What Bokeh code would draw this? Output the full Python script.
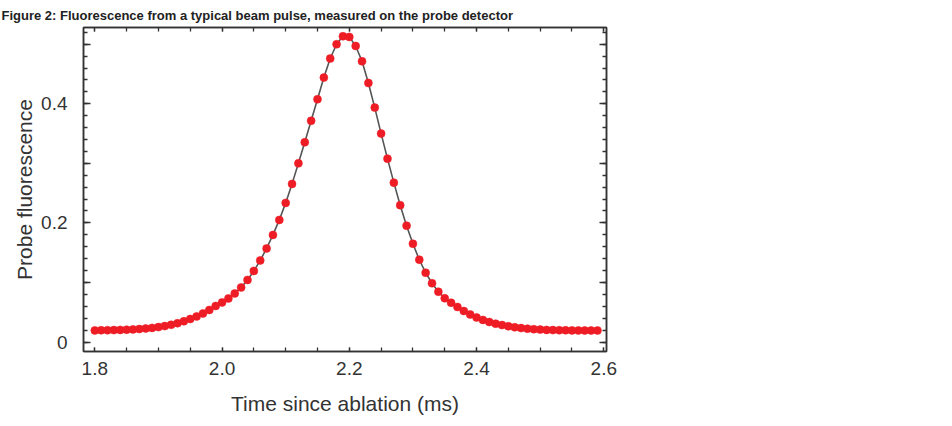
from bokeh.plotting import figure
from bokeh.models import (FixedTicker, LinearAxis, CustomJSTickFormatter, PrintfTickFormatter,
                          Range1d)
from bokeh.embed import file_html
from bokeh.resources import INLINE

# Data: time since ablation (ms) and probe fluorescence
time_ms = [1.80, 1.81, 1.82, 1.83, 1.84, 1.85, 1.86, 1.87, 1.88, 1.89,
           1.90, 1.91, 1.92, 1.93, 1.94, 1.95, 1.96, 1.97, 1.98, 1.99,
           2.00, 2.01, 2.02, 2.03, 2.04, 2.05, 2.06, 2.07, 2.08, 2.09,
           2.10, 2.11, 2.12, 2.13, 2.14, 2.15, 2.16, 2.17, 2.18, 2.19,
           2.20, 2.21, 2.22, 2.23, 2.24, 2.25, 2.26, 2.27, 2.28, 2.29,
           2.30, 2.31, 2.32, 2.33, 2.34, 2.35, 2.36, 2.37, 2.38, 2.39,
           2.40, 2.41, 2.42, 2.43, 2.44, 2.45, 2.46, 2.47, 2.48, 2.49,
           2.50, 2.51, 2.52, 2.53, 2.54, 2.55, 2.56, 2.57, 2.58, 2.59]
fluorescence = [0.0195, 0.0197, 0.0198, 0.0200, 0.0203, 0.0207, 0.0212, 0.0218, 0.0227, 0.0237,
                0.0250, 0.0267, 0.0289, 0.0316, 0.0348, 0.0387, 0.0429, 0.0479, 0.0538, 0.0605,
                0.0664, 0.0731, 0.0815, 0.0916, 0.1042, 0.1193, 0.1370, 0.1571, 0.1798, 0.2050,
                0.2336, 0.2655, 0.3000, 0.3353, 0.3714, 0.4076, 0.4440, 0.4760, 0.5000, 0.5134,
                0.5123, 0.4971, 0.4714, 0.4350, 0.3936, 0.3499, 0.3079, 0.2676, 0.2297, 0.1953,
                0.1650, 0.1382, 0.1163, 0.0987, 0.0844, 0.0734, 0.0659, 0.0588, 0.0521, 0.0462,
                0.0412, 0.0370, 0.0336, 0.0308, 0.0284, 0.0264, 0.0247, 0.0234, 0.0224, 0.0215,
                0.0208, 0.0203, 0.0200, 0.0198, 0.0197, 0.0195, 0.0195, 0.0193, 0.0193, 0.0193]

x_ticks = [1.8, 2.0, 2.2, 2.4, 2.6]
x_minor = [round(1.8 + 0.05 * i, 2) for i in range(17)]
y_ticks = [0.0, 0.1, 0.2, 0.3, 0.4, 0.5]
y_minor = [round(0.02 * i, 2) for i in range(27)]

caption = "Figure 2: Fluorescence from a typical beam pulse, measured on the probe detector"

FONT = "Liberation Sans"
DARK = "#333333"

p = figure(frame_width=523, frame_height=324,
           min_border_left=83, min_border_right=330, min_border_top=27, min_border_bottom=67,
           x_range=Range1d(1.78224, 2.60424), y_range=Range1d(-0.01595, 0.5281),
           output_backend="svg", toolbar_location=None, x_axis_location=None, y_axis_location=None,
           title=caption)
p.background_fill_color = "white"
p.border_fill_color = "white"
p.grid.visible = False
p.outline_line_color = DARK
p.outline_line_width = 1.5

p.title.align = "left"
p.title.offset = -82
p.title.standoff = 9
p.title.text_font = FONT
p.title.text_font_size = "13px"
p.title.text_font_style = "bold"
p.title.text_color = "#222222"

xticker = FixedTicker(ticks=x_ticks, minor_ticks=x_minor)
yticker = FixedTicker(ticks=y_ticks, minor_ticks=y_minor)

ylab = CustomJSTickFormatter(code="""
const k = Math.round(tick * 10);
if (k % 2 != 0) { return ""; }
return k == 0 ? "0" : (k / 10).toFixed(1);
""")
blank = CustomJSTickFormatter(code="return '';")


def style(ax, major_len, minor_len):
    ax.axis_line_color = DARK
    ax.axis_line_width = 1.5
    ax.major_tick_line_color = DARK
    ax.minor_tick_line_color = DARK
    ax.major_tick_line_width = 1.3
    ax.minor_tick_line_width = 1.3
    ax.major_tick_in = major_len
    ax.major_tick_out = 0
    ax.minor_tick_in = minor_len
    ax.minor_tick_out = 0
    ax.major_label_text_font = FONT
    ax.major_label_text_font_size = "19px"
    ax.major_label_text_color = DARK
    ax.axis_label_text_font = FONT
    ax.axis_label_text_font_size = "21px"
    ax.axis_label_text_font_style = "normal"
    ax.axis_label_text_color = DARK


bottom = LinearAxis(ticker=xticker, formatter=PrintfTickFormatter(format="%.1f"),
                    axis_label="Time since ablation (ms)")
style(bottom, 4, 4)
bottom.major_label_standoff = 10
bottom.axis_label_standoff = 14
p.add_layout(bottom, "below")

left = LinearAxis(ticker=yticker, formatter=ylab, axis_label="Probe fluorescence")
style(left, 7, 4)
left.major_label_standoff = 16
left.axis_label_standoff = 2
p.add_layout(left, "left")

top = LinearAxis(ticker=xticker, formatter=blank)
style(top, 4, 4)
top.major_label_standoff = 0
top.major_label_text_font_size = "1px"
p.add_layout(top, "above")

right = LinearAxis(ticker=yticker, formatter=blank)
style(right, 7, 4)
right.major_label_standoff = 0
right.major_label_text_font_size = "1px"
p.add_layout(right, "right")

p.line(time_ms, fluorescence, line_color="#555555", line_width=1.6)
p.scatter(time_ms, fluorescence, size=8, fill_color="#ee1c25", line_color="#ee1c25", line_width=0.5)

open("out.html", "w").write(file_html(p, INLINE))
